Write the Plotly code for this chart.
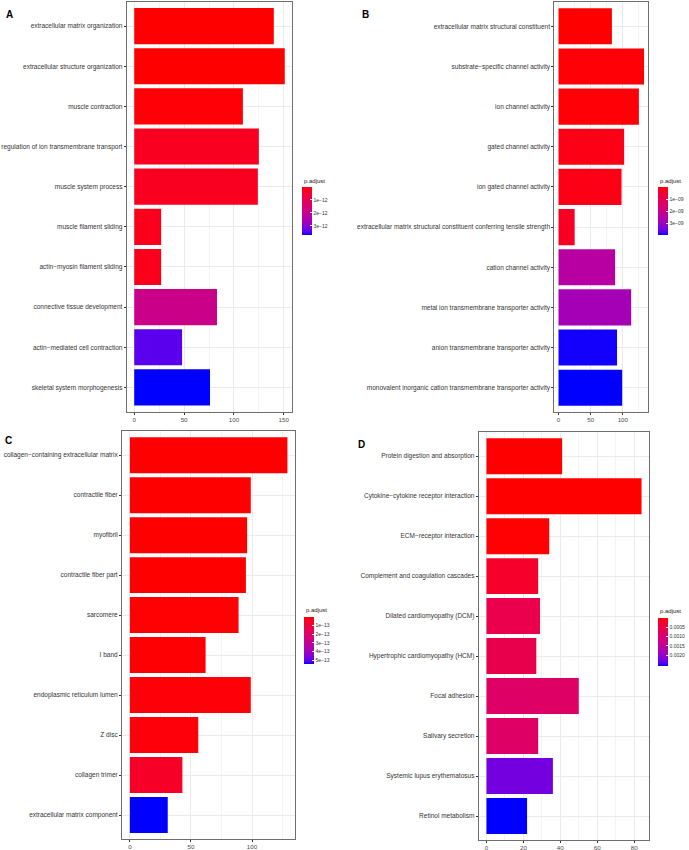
import plotly.graph_objects as go

# Panel A - biological process
a_terms = ["extracellular matrix organization", "extracellular structure organization",
           "muscle contraction", "regulation of ion transmembrane transport",
           "muscle system process", "muscle filament sliding", "actin−myosin filament sliding",
           "connective tissue development", "actin−mediated cell contraction",
           "skeletal system morphogenesis"]
a_count = [140, 151, 109, 125, 124, 27, 27, 83, 48, 76]
a_padj = [5e-15, 8e-15, 4e-14, 2.6e-13, 2.7e-13, 2.2e-13, 2.2e-13, 1.85e-12, 3.42e-12, 3.7e-12]

# Panel B - molecular function
b_terms = ["extracellular matrix structural constituent", "substrate−specific channel activity",
           "ion channel activity", "gated channel activity", "ion gated channel activity",
           "extracellular matrix structural constituent conferring tensile strength",
           "cation channel activity", "metal ion transmembrane transporter activity",
           "anion transmembrane transporter activity",
           "monovalent inorganic cation transmembrane transporter activity"]
b_count = [83, 133, 125, 102, 98, 25, 88, 113, 91, 99]
b_padj = [2e-12, 4e-11, 5e-11, 1.6e-10, 1.7e-10, 3.2e-10, 2.45e-9, 2.8e-9, 3.95e-9, 4.0e-9]

# Panel C - cellular component
c_terms = ["collagen−containing extracellular matrix", "contractile fiber", "myofibril",
           "contractile fiber part", "sarcomere", "I band", "endoplasmic reticulum lumen",
           "Z disc", "collagen trimer", "extracellular matrix component"]
c_count = [129, 99, 96, 95, 89, 62, 99, 56, 43, 31]
c_padj = [1e-17, 2e-16, 5e-16, 6e-16, 3e-15, 4e-15, 8e-15, 1e-14, 4.9e-14, 5.4e-13]

# Panel D - KEGG
d_terms = ["Protein digestion and absorption", "Cytokine−cytokine receptor interaction",
           "ECM−receptor interaction", "Complement and coagulation cascades",
           "Dilated cardiomyopathy (DCM)", "Hypertrophic cardiomyopathy (HCM)",
           "Focal adhesion", "Salivary secretion", "Systemic lupus erythematosus",
           "Retinol metabolism"]
d_count = [41, 84, 34, 28, 29, 27, 50, 28, 36, 22]
d_padj = [2e-6, 3e-6, 1.5e-5, 0.00027, 0.0006, 0.00061, 0.00088, 0.00087, 0.00222, 0.00255]

# colorbar tick labels
a_ticks = [1e-12, 2e-12, 3e-12]
b_ticks = [1e-9, 2e-9, 3e-9]
c_ticks = [1e-13, 2e-13, 3e-13, 4e-13, 5e-13]
d_ticks = [0.0005, 0.0010, 0.0015, 0.0020]
a_ticktext = ["1e−12", "2e−12", "3e−12"]
b_ticktext = ["1e−09", "2e−09", "3e−09"]
c_ticktext = ["1e−13", "2e−13", "3e−13", "4e−13", "5e−13"]
d_ticktext = ["0.0005", "0.0010", "0.0015", "0.0020"]

W, H = 689, 850
FONT = "Liberation Sans, Arial, sans-serif"


# red -> blue gradient interpolated in CIELAB like ggplot's scale_fill_continuous
def _lin(c):
    c = c / 255
    return c / 12.92 if c <= 0.04045 else ((c + 0.055) / 1.055) ** 2.4


def _gam(c):
    c = 12.92 * c if c <= 0.0031308 else 1.055 * c ** (1 / 2.4) - 0.055
    return max(0, min(255, round(c * 255)))


def to_lab(rgb):
    r, g, b = [_lin(v) for v in rgb]
    X = (0.4124 * r + 0.3576 * g + 0.1805 * b) / 0.95047
    Y = (0.2126 * r + 0.7152 * g + 0.0722 * b)
    Z = (0.0193 * r + 0.1192 * g + 0.9505 * b) / 1.08883
    f = lambda t: t ** (1 / 3) if t > 0.008856 else 7.787 * t + 16 / 116
    fx, fy, fz = f(X), f(Y), f(Z)
    return 116 * fy - 16, 500 * (fx - fy), 200 * (fy - fz)


def from_lab(L, a, b):
    fy = (L + 16) / 116
    fx = fy + a / 500
    fz = fy - b / 200
    finv = lambda t: t ** 3 if t ** 3 > 0.008856 else (t - 16 / 116) / 7.787
    X, Y, Z = finv(fx) * 0.95047, finv(fy), finv(fz) * 1.08883
    r = 3.2406 * X - 1.5372 * Y - 0.4986 * Z
    g = -0.9689 * X + 1.8758 * Y + 0.0415 * Z
    bb = 0.0557 * X - 0.2040 * Y + 1.0570 * Z
    return "rgb(%d,%d,%d)" % (_gam(r), _gam(g), _gam(bb))


red_lab = to_lab((255, 0, 0))
blue_lab = to_lab((0, 0, 255))
# colour values are -p.adjust so the bar shows small p (red) at the top
colorscale = []
for i in range(21):
    s = i / 20
    t = 1 - s
    lab = [r + (bl - r) * t for r, bl in zip(red_lab, blue_lab)]
    colorscale.append([s, from_lab(*lab)])

panels = [
    ("A", a_terms, a_count, a_padj, a_ticks, a_ticktext, 50, 25,
     (126.7, 292.3), (2, 411.5), (301.7, 187, 48), (9, 14)),
    ("B", b_terms, b_count, b_padj, b_ticks, b_ticktext, 50, 25,
     (554.3, 648.3), (2.2, 411.8), (657.7, 187.3, 48.4), (365, 14)),
    ("C", c_terms, c_count, c_padj, c_ticks, c_ticktext, 50, 25,
     (122, 295.3), (431.2, 839), (304, 616.7, 47.3), (8, 440)),
    ("D", d_terms, d_count, d_padj, d_ticks, d_ticktext, 20, 10,
     (478.7, 649.3), (432.2, 840), (658.3, 617.7, 47.6), (362, 444)),
]

fig = go.Figure()
layout = dict(width=W, height=H, margin=dict(l=0, r=0, t=0, b=0, autoexpand=False),
              paper_bgcolor="white", plot_bgcolor="white", showlegend=False,
              annotations=[], font=dict(family=FONT, color="#4D4D4D"))

for n, (label, terms, count, padj, ticks, ticktext, dtick, mdtick,
        xpx, ypx, cb, lab_pos) in enumerate(panels, start=1):
    sfx = "" if n == 1 else str(n)
    ca = "coloraxis" + sfx
    fig.add_trace(go.Bar(
        x=count, y=terms, orientation="h", width=0.9,
        marker=dict(color=[-p for p in padj], coloraxis=ca, line=dict(width=0)),
        xaxis="x" + sfx, yaxis="y" + sfx,
        hovertemplate="%{y}<br>Count: %{x}<extra></extra>",
    ))
    mx = max(count)
    layout["xaxis" + sfx] = dict(
        domain=[xpx[0] / W, xpx[1] / W], anchor="y" + sfx,
        range=[-0.05 * mx, 1.05 * mx], tick0=0, dtick=dtick,
        showgrid=True, gridcolor="#EBEBEB", gridwidth=0.8,
        minor=dict(tick0=0, dtick=mdtick, showgrid=True, gridcolor="#F4F4F4", gridwidth=0.5),
        zeroline=False, showline=True, mirror=True, linecolor="#6E6E6E", linewidth=1,
        ticks="outside", ticklen=2, tickcolor="#333333", tickwidth=0.8,
        tickfont=dict(family=FONT, size=6.2, color="#4D4D4D"),
    )
    layout["yaxis" + sfx] = dict(
        domain=[1 - ypx[1] / H, 1 - ypx[0] / H], anchor="x" + sfx,
        type="category", categoryorder="array", categoryarray=terms,
        range=[len(terms) - 0.4, -0.6],
        showgrid=True, gridcolor="#EBEBEB", gridwidth=0.8,
        zeroline=False, showline=True, mirror=True, linecolor="#6E6E6E", linewidth=1,
        ticks="outside", ticklen=2, tickcolor="#333333", tickwidth=0.8,
        tickfont=dict(family=FONT, size=6.5, color="#333333"),
    )
    layout[ca] = dict(
        colorscale=colorscale, cmin=-max(padj), cmax=-min(padj),
        colorbar=dict(
            x=cb[0] / W, xanchor="left", y=1 - cb[1] / H, yanchor="top",
            len=cb[2], lenmode="pixels", thickness=10, xpad=0, ypad=0,
            outlinewidth=0, tickvals=[-v for v in ticks], ticktext=ticktext,
            ticks="inside", ticklen=2, tickcolor="white", tickwidth=0.8,
            tickfont=dict(family=FONT, size=5, color="#333333"),
        ),
    )
    layout["annotations"].append(dict(
        text="p.adjust", x=cb[0] / W, y=1 - (cb[1] - 1.5) / H, xref="paper", yref="paper",
        xanchor="left", yanchor="bottom", showarrow=False,
        font=dict(family=FONT, size=6, color="#1A1A1A")))
    layout["annotations"].append(dict(
        text="<b>%s</b>" % label, x=lab_pos[0] / W, y=1 - lab_pos[1] / H,
        xref="paper", yref="paper", xanchor="center", yanchor="middle", showarrow=False,
        font=dict(family=FONT, size=10, color="black")))

fig.update_layout(**layout)
# the page body has a default 8px margin; drop it so the figure sits at the corner
fig.write_html("out.html", config={"displayModeBar": False},
               post_script="document.body.style.margin='0';")
